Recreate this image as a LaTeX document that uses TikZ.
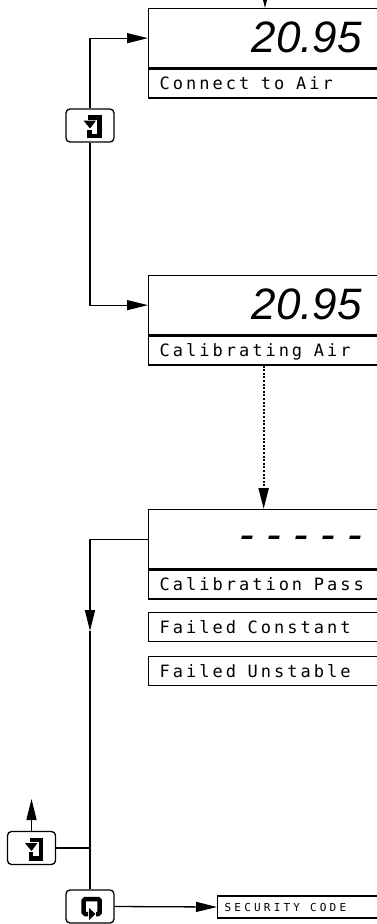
\documentclass[tikz,border=0pt]{standalone}
\usepackage{fontspec}
\usepackage{tikz}
\usetikzlibrary{arrows.meta}

\newfontfamily\lcdfont{DejaVu Sans Mono}
\newfontfamily\segfont{Liberation Sans}
\makeatletter
\newcommand{\spread}[2]{\@tfor\@ch:=#2\do{\@ch\kern#1}}
\makeatother

\tikzset{
	panel/.style={draw, line width=1.3pt, anchor=north west, minimum width=260pt, inner sep=0pt},
	valpanel/.style={panel, minimum height=59pt},
	labpanel/.style={panel, minimum height=29pt, text width=238pt, inner xsep=11pt, align=left,
		text height=12pt, text depth=0pt, font=\lcdfont\fontsize{17}{19}\selectfont},
	digits/.style={anchor=base east, inner sep=0pt, font=\segfont\itshape\fontsize{44}{48}\selectfont},
	key/.style={draw, line width=1.3pt, rounded corners=4pt, minimum width=48pt, minimum height=33pt, inner sep=0pt},
	wire/.style={line width=1.3pt},
	flow/.style={wire, -{Triangle[length=21pt,width=10pt]}}
}

\begin{document}
\begin{tikzpicture}[x=1pt,y=-1pt]
		\useasboundingbox (0,0) rectangle (377,924);
		\clip (0,0) rectangle (377,924);
		% displays
		\node[valpanel] (val1) at (148,8) {};
		\node[labpanel] (lab1) at (val1.south west) {\spread{3pt}{Connect~to~Air}};
		\node[digits] (num1) at (362,52) {20.95};
		\node[valpanel] (val2) at (148,275) {};
		\node[labpanel] (lab2) at (val2.south west) {\spread{3pt}{Calibrating~Air}};
		\node[digits] (num2) at (362,319) {20.95};
		\node[valpanel] (val3) at (148,509) {};
		\node[labpanel] (lab3) at (val3.south west) {\spread{3pt}{Calibration~Pass}};
		\node[digits] (num3) at (362,549) {- - - - -};
		\node[labpanel] (fail1) at (148,612) {\spread{3pt}{Failed~Constant}};
		\node[labpanel] (fail2) at (148,656) {\spread{3pt}{Failed~Unstable}};
		\node[labpanel, anchor=west, minimum height=22pt, inner xsep=7pt, text width=246pt,
			text height=8pt, font=\lcdfont\fontsize{11}{13}\selectfont] (sec) at (217,907) {\spread{3.2pt}{SECURITY~CODE}};
		% keys
		\node[key] (key1) at (90,125.5) {};
		\node[key] (key2) at (31.5,848) {};
		\node[key] (key3) at (90,906.5) {};
		\begin{scope}[shift={(key1.center)}]
			\draw[line width=4.5pt] (-2,-8.2) -- (9.7,-8.2) -- (9.7,10.5) -- (-0.3,10.5) -- (-0.3,4);
			\fill (-6.5,-5) -- (6,-5) -- (0,3) -- cycle;
		\end{scope}
		\begin{scope}[shift={(key2.center)}]
			\draw[line width=4.5pt] (-2,-8.2) -- (9.7,-8.2) -- (9.7,10.5) -- (-0.3,10.5) -- (-0.3,4);
			\fill (-6.5,-5) -- (6,-5) -- (0,3) -- cycle;
		\end{scope}
		\begin{scope}[shift={(key3.center)}]
			\draw[line width=4.5pt, rounded corners=1.5pt] (-2,7.5) -- (-6.3,7.5) -- (-6.3,-7.5) -- (9.7,-7.5) -- (9.7,7.5) -- (6,7.5);
			\fill (-1,1.5) -- (-1,13.5) -- (5.5,7.5) -- cycle;
		\end{scope}
		% connectors
		\coordinate (entry) at (265,-25);
		\draw[flow] (entry) -- (entry |- val1.north);
		\draw[flow] (key1.north) |- (val1.west);
		\draw[flow] (key1.south) |- (val2.west);
		\draw[flow, line width=2pt, dash pattern=on 2pt off 1.6pt] ([xshift=-15pt]lab2.south) -- ([xshift=-15pt]val3.north);
		\coordinate (down) at (90,631);
		\draw[flow] (val3.west) -| (down);
		\draw[wire] (down) -- (key3.north);
		\draw[wire] (key2.east) -- (key2.east -| key3.north);
		\coordinate (back) at (31.5,799);
		\draw[flow] (key2.north) -- (back);
		\draw[flow] (key3.east) -- (sec.west);
	\end{tikzpicture}
\end{document}
